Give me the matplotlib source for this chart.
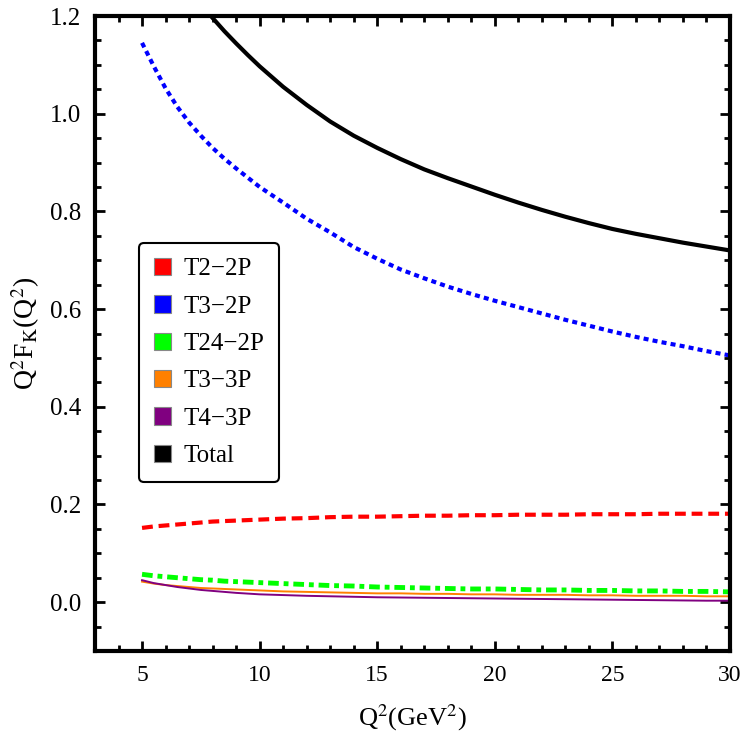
import matplotlib
matplotlib.use("Agg")
import matplotlib.pyplot as plt
from matplotlib.patches import Patch

plt.rcParams['font.family'] = ['Liberation Serif', 'DejaVu Serif']
plt.rcParams['mathtext.fontset'] = 'stix'

# Data (Q^2 in GeV^2)
q2 = [5, 5.5, 6, 6.5, 7, 7.5, 8, 8.5, 9, 9.5, 10, 11, 12, 13, 14, 15, 16, 17, 18, 19,
      20, 21, 22, 23, 24, 25, 26, 27, 28, 29, 30]
t2_2p = [0.152, 0.155, 0.157, 0.159, 0.161, 0.163, 0.165, 0.166, 0.167, 0.168, 0.169, 0.171,
         0.172, 0.174, 0.175, 0.175, 0.176, 0.177, 0.177, 0.178, 0.178, 0.179, 0.179, 0.179,
         0.180, 0.180, 0.180, 0.181, 0.181, 0.181, 0.181]
t3_2p = [1.145, 1.097, 1.052, 1.014, 0.982, 0.955, 0.930, 0.908, 0.888, 0.869, 0.850, 0.818,
         0.785, 0.757, 0.727, 0.703, 0.681, 0.663, 0.646, 0.631, 0.617, 0.604, 0.591, 0.578,
         0.566, 0.554, 0.543, 0.533, 0.524, 0.514, 0.505]
t24_2p = [0.057, 0.054, 0.052, 0.050, 0.048, 0.046, 0.045, 0.043, 0.042, 0.041, 0.040, 0.038,
          0.036, 0.034, 0.033, 0.031, 0.030, 0.029, 0.028, 0.027, 0.027, 0.026, 0.025, 0.025,
          0.024, 0.024, 0.023, 0.023, 0.022, 0.022, 0.021]
t3_3p = [0.042, 0.038, 0.035, 0.033, 0.031, 0.029, 0.028, 0.027, 0.026, 0.025, 0.024, 0.022,
         0.021, 0.020, 0.019, 0.018, 0.018, 0.017, 0.017, 0.016, 0.016, 0.015, 0.015, 0.015,
         0.014, 0.014, 0.013, 0.013, 0.013, 0.012, 0.012]
t4_3p = [0.045, 0.039, 0.035, 0.031, 0.028, 0.025, 0.023, 0.021, 0.019, 0.0175, 0.016, 0.0145,
         0.013, 0.012, 0.011, 0.010, 0.0095, 0.009, 0.0085, 0.008, 0.0075, 0.007, 0.0065, 0.006,
         0.0055, 0.005, 0.0045, 0.004, 0.0035, 0.003, 0.003]
total = [1.44, 1.38, 1.33, 1.29, 1.255, 1.225, 1.196, 1.169, 1.144, 1.120, 1.097, 1.055,
         1.018, 0.984, 0.955, 0.93, 0.907, 0.886, 0.868, 0.851, 0.834, 0.818, 0.803, 0.789,
         0.776, 0.764, 0.754, 0.745, 0.736, 0.728, 0.72]

labels = ["T2\u22122P", "T3\u22122P", "T24\u22122P", "T3\u22123P", "T4\u22123P", "Total"]
colors = ["#ff0000", "#0000ff", "#00ff00", "#ff8000", "#800080", "#000000"]

fig = plt.figure(figsize=(7.5, 7.4), dpi=100)
ax = fig.add_axes([95/750, 1-651/740, 635/750, 635/740])

ax.plot(q2, t2_2p, color=colors[0], lw=3.0, dashes=(2.6, 1.4))
ax.plot(q2, t3_2p, color=colors[1], lw=3.0, dashes=(1.2, 1.0))
ax.plot(q2, t24_2p, color=colors[2], lw=3.5, dashes=(2.2, 1.0, 1.0, 1.0))
ax.plot(q2, t3_3p, color=colors[3], lw=1.4)
ax.plot(q2, t4_3p, color=colors[4], lw=1.4)
ax.plot(q2, total, color=colors[5], lw=3.0)

ax.set_xlim(3, 30)
ax.set_ylim(-0.1, 1.2)
ax.set_xticks([5, 10, 15, 20, 25, 30])
ax.set_xticks(range(3, 31), minor=True)
ax.set_yticks([0.0, 0.2, 0.4, 0.6, 0.8, 1.0, 1.2])
ax.set_yticklabels(["0.0", "0.2", "0.4", "0.6", "0.8", "1.0", "1.2"])
ax.set_yticks([i*0.05 - 0.1 for i in range(27)], minor=True)

ax.tick_params(which='both', direction='in', top=True, right=True, width=2)
ax.tick_params(axis='y', which='major', labelsize=18)
ax.tick_params(axis='x', which='major', labelsize=17)
ax.tick_params(which='major', length=7, pad=10)
ax.tick_params(which='minor', length=4)
for s in ax.spines.values():
    s.set_linewidth(3)

ax.set_xlabel("Q$^2$(GeV$^2$)", fontsize=19, labelpad=12)
ax.set_ylabel("Q$^2$F$_{\\rm K}$(Q$^2$)", fontsize=20, labelpad=6)

handles = [Patch(facecolor=c, edgecolor='#888888', linewidth=0.8) for c in colors]
leg = ax.legend(handles, labels, loc='upper left', bbox_to_anchor=(0.0693, 0.6425),
                borderaxespad=0, fontsize=18, handlelength=0.68, handleheight=0.68,
                labelspacing=0.6, handletextpad=0.5, borderpad=0.6,
                fancybox=True, framealpha=1, edgecolor='black')
leg.get_frame().set_linewidth(1.5)

fig.savefig("out.png", dpi=100)
